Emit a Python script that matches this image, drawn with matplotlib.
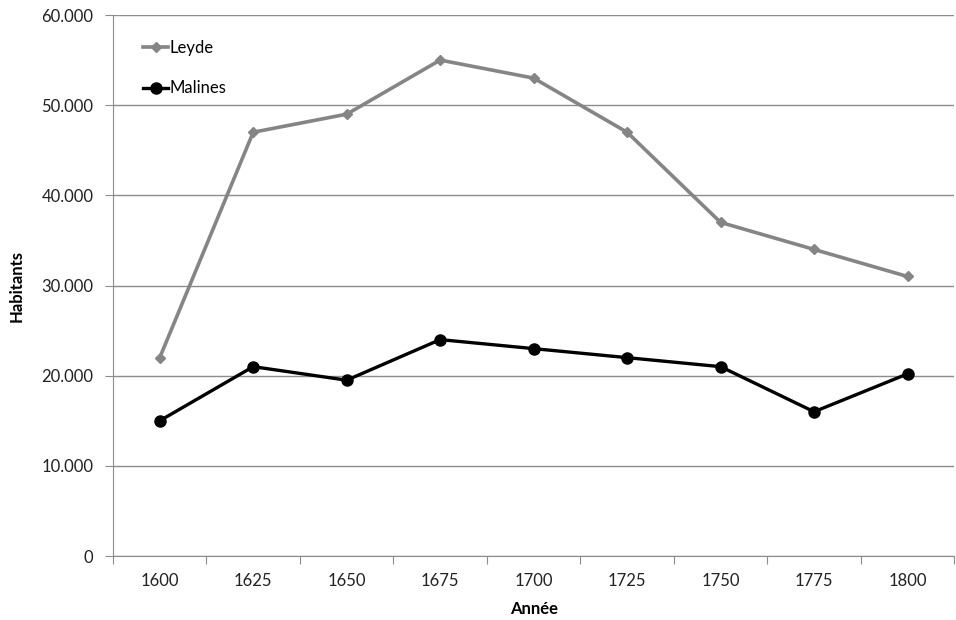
import matplotlib
matplotlib.use("Agg")
import matplotlib.pyplot as plt
from matplotlib.ticker import FuncFormatter, FixedLocator

plt.rcParams['font.family'] = ['Lato', 'DejaVu Sans']

years = ["1600", "1625", "1650", "1675", "1700", "1725", "1750", "1775", "1800"]
leyde = [22000, 47000, 49000, 55000, 53000, 47000, 37000, 34000, 31000]
malines = [15000, 21000, 19500, 24000, 23000, 22000, 21000, 16000, 20200]
yticks = [0, 10000, 20000, 30000, 40000, 50000, 60000]

fig = plt.figure(figsize=(9.56, 6.2), dpi=100)
ax = fig.add_axes([0.1182, 0.1032, 0.880, 0.8726])

x = [i + 0.5 for i in range(len(years))]
ax.plot(x, leyde, color="#858585", lw=2.6, marker="D", ms=5.5, label="Leyde", zorder=3)
ax.plot(x, malines, color="black", lw=2.4, marker="o", ms=8, label="Malines", zorder=4)

ax.set_xlim(0, len(years))
ax.set_ylim(0, 60000)
ax.set_yticks(yticks)
ax.yaxis.set_major_formatter(FuncFormatter(lambda v, p: "0" if v == 0 else f"{int(v):,}".replace(",", ".")))
ax.grid(axis="y", color="#8c8c8c", lw=1)
ax.set_axisbelow(True)

ax.xaxis.set_major_locator(FixedLocator(list(range(len(years) + 1))))
ax.set_xticklabels([])
ax.xaxis.set_minor_locator(FixedLocator(x))
ax.set_xticks(x, years, minor=True)
ax.tick_params(axis="x", which="minor", length=0, pad=12, labelsize=12, labelcolor="#222222")
ax.tick_params(axis="x", which="major", length=6, color="#8c8c8c", direction="out")
ax.tick_params(axis="y", length=6, color="#8c8c8c", labelsize=12, labelcolor="#222222", pad=8)

for s in ["top", "right"]:
    ax.spines[s].set_visible(False)
ax.spines["left"].set_color("#8c8c8c")
ax.spines["bottom"].set_color("#8c8c8c")

ax.set_ylabel("Habitants", fontsize=12, fontweight="bold", labelpad=12)
ax.set_xlabel("Année", fontsize=12, fontweight="bold", labelpad=9)

ax.legend(loc="upper left", frameon=False, fontsize=12, handlelength=1.5, handletextpad=0.1,
          labelspacing=1.45, bbox_to_anchor=(0.022, 0.975), borderaxespad=0.3)

fig.savefig("out.png", dpi=100)
